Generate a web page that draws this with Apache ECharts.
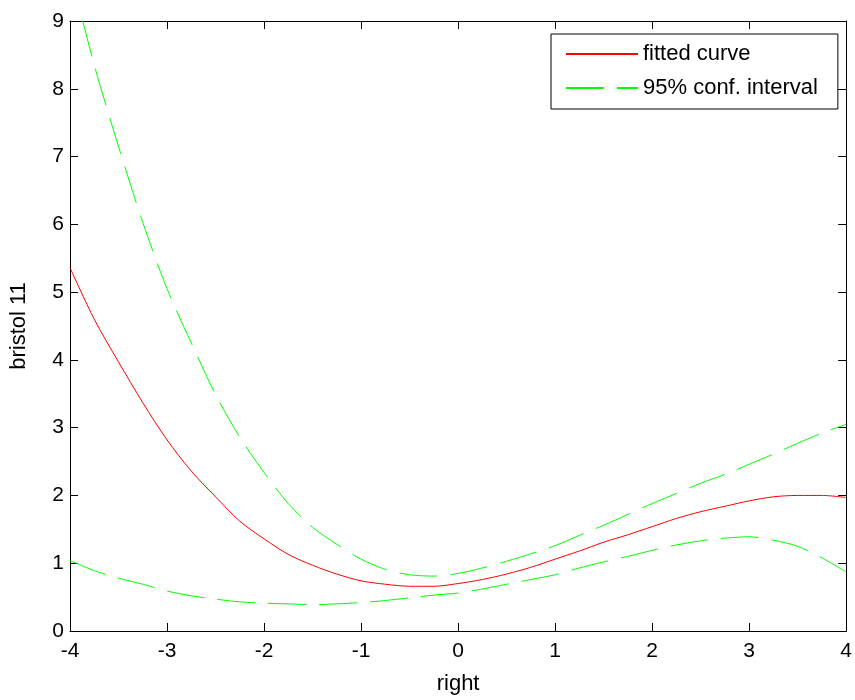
<!DOCTYPE html>
<html>
<head>
<meta charset="utf-8">
<script src="https://cdn.jsdelivr.net/npm/echarts@6/dist/echarts.min.js"></script>
<style>
html,body{margin:0;padding:0;background:#fff;}
#chart{width:855px;height:700px;}
</style>
</head>
<body>
<div id="chart"></div>
<script>
var xValues = [-4,-3.75,-3.5,-3.25,-3,-2.75,-2.5,-2.25,-2,-1.75,-1.5,-1.25,-1,-0.75,-0.5,-0.25,0,0.25,0.5,0.75,1,1.25,1.5,1.75,2,2.25,2.5,2.75,3,3.25,3.5,3.75,4];
var fittedCurve = [5.36,4.60,3.97,3.37,2.82,2.36,1.98,1.62,1.36,1.13,0.97,0.84,0.74,0.69,0.66,0.66,0.70,0.76,0.84,0.94,1.06,1.18,1.31,1.42,1.54,1.66,1.76,1.84,1.92,1.98,2.00,2.00,1.97];
var upperBound = [9.75,8.35,7.15,6.03,5.05,4.25,3.49,2.86,2.34,1.88,1.53,1.28,1.06,0.91,0.83,0.81,0.85,0.93,1.03,1.14,1.26,1.41,1.56,1.72,1.88,2.03,2.18,2.31,2.46,2.61,2.77,2.92,3.05];
var lowerBound = [1.04,0.89,0.78,0.69,0.59,0.52,0.47,0.43,0.41,0.40,0.39,0.40,0.42,0.45,0.49,0.53,0.56,0.62,0.69,0.76,0.83,0.93,1.02,1.10,1.19,1.27,1.33,1.37,1.39,1.34,1.25,1.08,0.87];
var xTicks = [-4,-3,-2,-1,0,1,2,3,4];
var yTicks = [0,1,2,3,4,5,6,7,8,9];
var xLabel = 'right';
var yLabel = 'bristol 11';
var fittedName = 'fitted curve';
var ciName = '95% conf. interval';

function pairs(xs, ys){ return xs.map(function(x,i){ return [x, ys[i]]; }); }

var FONT = 'Liberation Sans, Arial, Helvetica, sans-serif';
var chart = echarts.init(document.getElementById('chart'), null, {renderer:'canvas'});

var axisCommon = {
  axisLine:{show:true,onZero:false,lineStyle:{color:'#000',width:1}},
  axisTick:{show:true,inside:true,length:8,lineStyle:{color:'#000',width:1}},
  splitLine:{show:false}
};

chart.setOption({
  animation:false,
  backgroundColor:'#fff',
  grid:{left:68,right:8,top:21,bottom:66,containLabel:false},
  legend:{
    orient:'vertical',
    left:551, top:34,
    backgroundColor:'#fff',
    borderColor:'#000', borderWidth:1,
    padding:[9,20,10,14],
    itemWidth:72, itemHeight:14, itemGap:12,
    itemStyle:{opacity:0},
    textStyle:{fontFamily:FONT,fontSize:22,color:'#000'},
    data:[{name:fittedName},{name:ciName}]
  },
  xAxis:[
    Object.assign({}, axisCommon, {
      type:'value', position:'bottom',
      min:xTicks[0], max:xTicks[xTicks.length-1], interval:1,
      name:xLabel, nameLocation:'middle', nameGap:42,
      nameTextStyle:{fontFamily:FONT,fontSize:22,color:'#000'},
      axisLabel:{fontFamily:FONT,fontSize:21,color:'#000',margin:10}
    }),
    Object.assign({}, axisCommon, {
      type:'value', position:'top',
      min:xTicks[0], max:xTicks[xTicks.length-1], interval:1,
      axisLabel:{show:false}
    })
  ],
  yAxis:[
    Object.assign({}, axisCommon, {
      type:'value', position:'left',
      min:yTicks[0], max:yTicks[yTicks.length-1], interval:1,
      name:yLabel, nameLocation:'middle', nameGap:40,
      nameTextStyle:{fontFamily:FONT,fontSize:22,color:'#000'},
      axisLabel:{fontFamily:FONT,fontSize:21,color:'#000',margin:6}
    }),
    Object.assign({}, axisCommon, {
      type:'value', position:'right',
      min:yTicks[0], max:yTicks[yTicks.length-1], interval:1,
      axisLabel:{show:false}
    })
  ],
  series:[
    {
      name:fittedName, type:'line', data:pairs(xValues,fittedCurve),
      xAxisIndex:0, yAxisIndex:0,
      showSymbol:false, symbol:'none', smooth:0.3, clip:true,
      lineStyle:{color:'#ff0000',width:1},
      itemStyle:{color:'#ff0000'}
    },
    {
      name:ciName, type:'line', data:pairs(xValues,upperBound),
      xAxisIndex:0, yAxisIndex:0,
      showSymbol:false, symbol:'none', smooth:0.3, clip:true,
      lineStyle:{color:'#00ff00',width:1,type:[38,13]},
      itemStyle:{color:'#00ff00'}
    },
    {
      name:ciName, type:'line', data:pairs(xValues,lowerBound),
      xAxisIndex:0, yAxisIndex:0,
      showSymbol:false, symbol:'none', smooth:0.3, clip:true,
      lineStyle:{color:'#00ff00',width:1,type:[38,13]},
      itemStyle:{color:'#00ff00'}
    }
  ]
});
</script>
</body>
</html>
